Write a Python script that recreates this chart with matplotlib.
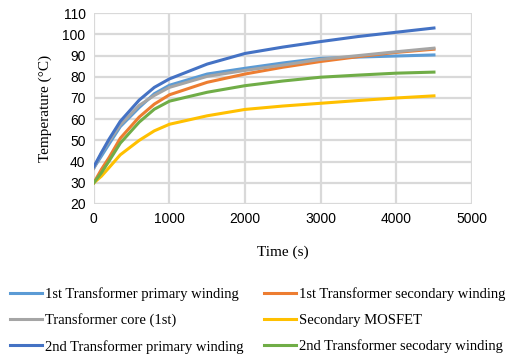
import matplotlib
matplotlib.use("Agg")
import matplotlib.pyplot as plt

# time axis (s) and temperatures (degC)
time_s = [0, 100, 200, 350, 600, 800, 1000, 1500, 2000, 2500, 3000, 3500, 4000, 4500]
t1_primary = [37, 42.6, 48.2, 56.5, 65.5, 72, 76, 81.3, 84, 86.5, 88.7, 89.3, 89.8, 90.3]
t1_secondary = [30, 36.3, 41.8, 51, 61, 67.1, 71.5, 77.4, 81.3, 84.5, 87.2, 89.5, 91.5, 93]
core_1st = [36.8, 44, 49.5, 57.3, 66.5, 71.2, 75, 80.2, 83, 85.5, 88.2, 90, 91.8, 93.5]
sec_mosfet = [30, 33.1, 37.1, 43.2, 50, 54.5, 57.6, 61.6, 64.6, 66.2, 67.5, 68.8, 70, 71]
t2_primary = [37.6, 44.2, 50.5, 59, 69, 75, 79, 86, 91, 94, 96.6, 99, 101, 103]
t2_secondary = [30, 34.7, 40.2, 48.7, 58.6, 64.7, 68.5, 72.7, 75.8, 78, 79.8, 80.8, 81.7, 82.2]

series = [
    ("1st Transformer primary winding", t1_primary, "#5B9BD5"),
    ("1st Transformer secondary winding", t1_secondary, "#ED7D31"),
    ("Transformer core (1st)", core_1st, "#A5A5A5"),
    ("Secondary MOSFET", sec_mosfet, "#FFC000"),
    ("2nd Transformer primary winding", t2_primary, "#4472C4"),
    ("2nd Transformer secodary winding", t2_secondary, "#70AD47"),
]

serif = "Liberation Serif"

fig = plt.figure(figsize=(5.1, 3.56), dpi=100)
ax = fig.add_axes([0.184, 0.427, 0.741, 0.536])

lines = []
for label, vals, color in series:
    ln, = ax.plot(time_s, vals, color=color, linewidth=2.2, label=label)
    lines.append(ln)

ax.set_xlim(0, 5000)
ax.set_ylim(20, 110)
ax.set_xticks(range(0, 5001, 1000))
ax.set_yticks(range(20, 111, 10))
ax.grid(True, color="#d9d9d9", linewidth=1.6)
ax.set_axisbelow(True)
for s in ax.spines.values():
    s.set_visible(False)
ax.tick_params(length=0, labelsize=10, pad=6)
for t in ax.get_xticklabels() + ax.get_yticklabels():
    t.set_fontfamily("Liberation Sans")

ax.set_xlabel("Time (s)", fontsize=11, family=serif)
ax.set_ylabel("Temperature (\u00b0C)", fontsize=11, family=serif)
ax.xaxis.set_label_coords(0.5, -0.22)
ax.yaxis.set_label_coords(-0.11, 0.5)

# legend is filled row by row in the reference
order = [0, 2, 4, 1, 3, 5]
fig.legend([lines[i] for i in order], [lines[i].get_label() for i in order],
           loc="lower center", bbox_to_anchor=(0.505, -0.03), ncol=2, frameon=False,
           prop={"family": serif, "size": 10.5}, handlelength=2.2, handletextpad=0.2,
           columnspacing=1.45, labelspacing=0.85)

fig.savefig("out.png", dpi=100)
plt.close(fig)
